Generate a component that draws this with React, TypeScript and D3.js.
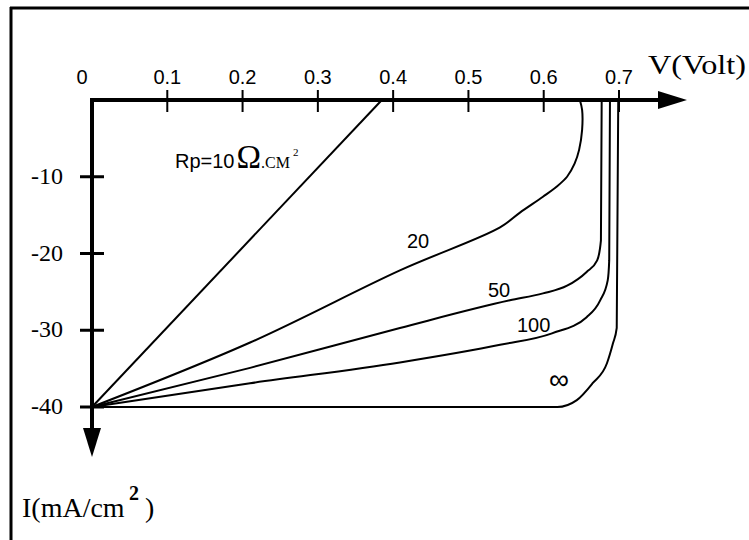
import * as d3 from "d3";

// I-V curves of a solar cell for several shunt resistances (Rp, ohm.cm2)
const xTicks = [0.1, 0.2, 0.3, 0.4, 0.5, 0.6, 0.7];
const xTickLabels = ["0.1", "0.2", "0.3", "0.4", "0.5", "0.6", "0.7"];
const yTicks = [-10, -20, -30, -40];
const yTickLabels = ["-10", "-20", "-30", "-40"];

const rp10V = [0, 0.385];
const rp10I = [-40, 0];

const rp20V = [0, 0.21, 0.409, 0.542, 0.568, 0.599, 0.617, 0.631, 0.641, 0.647, 0.651, 0.651, 0.648];
const rp20I = [-40, -31.6, -22.2, -16.6, -14.7, -12.6, -11.3, -10, -8.3, -6.5, -3.9, -1.3, 0];

const rp50V = [0, 0.21, 0.409, 0.555, 0.599, 0.631, 0.657, 0.671, 0.676, 0.677];
const rp50I = [-40, -34.9, -29.7, -26.1, -25.2, -24.2, -22.4, -20.9, -18.3, 0];

const rp100V = [0, 0.21, 0.409, 0.542, 0.611, 0.657, 0.675, 0.685, 0.687, 0.688];
const rp100I = [-40, -36.9, -34.2, -31.9, -30.4, -28.3, -26.1, -23.5, -20.9, 0];

const rpInfV = [0, 0.3, 0.595, 0.618, 0.644, 0.665, 0.684, 0.692, 0.697, 0.699];
const rpInfI = [-40, -40, -40, -40, -39.1, -36.9, -34.3, -31.7, -29.7, 0];

const curves = [
  { name: "10", v: rp10V, i: rp10I, bulge: false },
  { name: "20", v: rp20V, i: rp20I, bulge: true },
  { name: "50", v: rp50V, i: rp50I, bulge: false },
  { name: "100", v: rp100V, i: rp100I, bulge: false },
  { name: "inf", v: rpInfV, i: rpInfI, bulge: false },
];

const SERIF = "'Liberation Serif', 'Times New Roman', serif";
const SANS = "'Liberation Sans', Arial, sans-serif";

const App = () => {
  const width = 749;
  const height = 540;

  // origin of the axes at (92,100), 0.1 V = 75.3 px, 10 mA = 76.7 px
  const x = d3.scaleLinear().domain([0, 0.7]).range([92, 619]);
  const y = d3.scaleLinear().domain([0, -40]).range([100, 407]);

  const paths = curves.map((c) => {
    const pts = c.v.map((v, k) => [v, c.i[k]] as [number, number]);
    // rp=20 turns back on itself near Voc, so it can't use a monotone curve
    const line = d3
      .line<[number, number]>()
      .x((d) => x(d[0]))
      .y((d) => y(d[1]))
      .curve(c.bulge ? d3.curveCatmullRom.alpha(0.5) : d3.curveMonotoneX);
    return <path key={c.name} d={line(pts) || ""} fill="none" stroke="#000" strokeWidth={2} />;
  });

  const x0 = x(0);
  const y0 = y(0);

  return (
    <svg
      width={width}
      height={height}
      style={{ position: "absolute", left: 0, top: 0, background: "#fff" }}
    >
      {/* frame */}
      <line x1={10} y1={8} x2={749} y2={8} stroke="#000" strokeWidth={3} />
      <line x1={11} y1={7} x2={11} y2={540} stroke="#000" strokeWidth={3} />

      {/* x axis */}
      <line x1={x0 - 2} y1={y0} x2={660} y2={y0} stroke="#000" strokeWidth={4} />
      <path d={`M658,${y0 - 9}L687,${y0}L658,${y0 + 9}Z`} fill="#000" />
      {xTicks.map((t, k) => (
        <g key={t}>
          <line x1={x(t)} y1={y0 - 10} x2={x(t)} y2={y0 + 12} stroke="#000" strokeWidth={2} />
          <text x={x(t)} y={84} textAnchor="middle" fontFamily={SANS} fontSize={20}>
            {xTickLabels[k]}
          </text>
        </g>
      ))}
      <text x={82} y={84} textAnchor="middle" fontFamily={SANS} fontSize={20}>
        0
      </text>
      <text x={648} y={74} fontFamily={SERIF} fontSize={28} textLength={98} lengthAdjust="spacingAndGlyphs">
        V(Volt)
      </text>

      {/* y axis */}
      <line x1={x0} y1={y0 - 2} x2={x0} y2={430} stroke="#000" strokeWidth={4} />
      <path d={`M${x0 - 9},428L${x0},457L${x0 + 9},428Z`} fill="#000" />
      {yTicks.map((t, k) => (
        <g key={t}>
          <line x1={x0 - 12} y1={y(t)} x2={x0 + 12} y2={y(t)} stroke="#000" strokeWidth={3} />
          <text x={63} y={y(t) + 7} textAnchor="end" fontFamily={SERIF} fontSize={24}>
            {yTickLabels[k]}
          </text>
        </g>
      ))}
      <text fontFamily={SERIF} fontSize={28}>
        <tspan x={22} y={517}>I(mA/cm</tspan>
        <tspan x={129} y={500} fontSize={20} fontWeight="bold">2</tspan>
        <tspan x={145} y={517}>)</tspan>
      </text>

      {/* curves */}
      {paths}

      {/* curve labels */}
      <text x={175} y={168} fontFamily={SANS} fontSize={20}>
        Rp=10
        <tspan fontFamily={SERIF} fontSize={33} dx={2}>Ω</tspan>
        <tspan fontFamily={SERIF} fontSize={16}>.CM</tspan>
        <tspan fontFamily={SERIF} fontSize={11} dx={3} dy={-12}>2</tspan>
      </text>
      <text x={407} y={248} fontFamily={SANS} fontSize={20}>20</text>
      <text x={488} y={297} fontFamily={SANS} fontSize={20}>50</text>
      <text x={517} y={332} fontFamily={SANS} fontSize={20}>100</text>
      <text x={559} y={389} textAnchor="middle" fontFamily={SANS} fontSize={28}>∞</text>
    </svg>
  );
};

export default App;
